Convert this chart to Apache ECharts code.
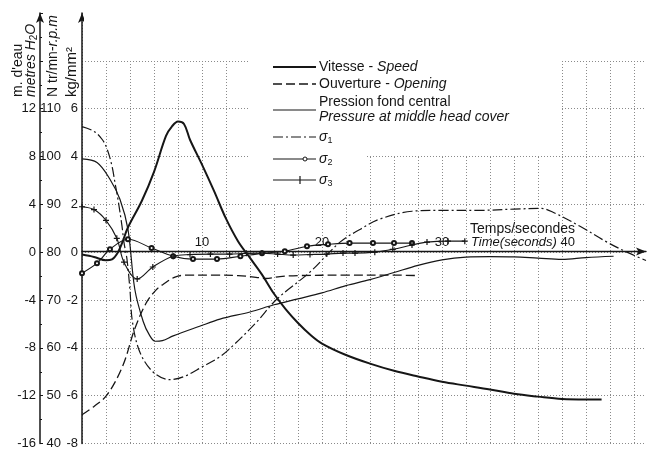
<!DOCTYPE html>
<html>
<head>
<meta charset="utf-8">
<script src="https://cdn.jsdelivr.net/npm/echarts@6.0.0/dist/echarts.min.js"></script>
<style>
html, body { margin: 0; padding: 0; background: #fff; }
#mychart { width: 649px; height: 450px; }
</style>
</head>
<body>
<div id="mychart"></div>
<script>
// tick labels of the three vertical scales and of the time axis
const timeTicks = [10, 20, 30, 40];
const kgTicks = [-8, -6, -4, -2, 0, 2, 4, 6];
const rpmTicks = [40, 50, 60, 70, 80, 90, 100, 110];
const metreTicks = [-16, -12, -8, -4, 0, 4, 8, 12];

// [time s, N tr/mn]
const speed = [[0, 79.5], [1, 79], [2, 78.3], [2.5, 78.5], [3, 80], [3.4, 82.3], [3.8, 85], [5, 90.8],
  [6, 96.8], [7, 104.3], [7.5, 106.3], [8, 107.3], [8.5, 106.8], [9, 103.5], [10, 98.3], [11, 92.8],
  [12, 87], [13, 82.3], [14, 78.8], [15, 75.3], [16, 71.3], [17, 68], [18, 65.2], [19, 62.8],
  [20, 60.9], [22, 58.5], [24, 56.7], [26, 55.2], [28, 54], [30, 52.9], [32, 52.1], [34, 51.3],
  [36, 50.4], [38, 49.8], [40, 49.3], [42, 49.2], [43.3, 49.2]];
// [time s, ouverture] drawn on the kg/mm2 scale
const opening = [[0, -6.8], [1, -6.45], [2.1, -5.96], [3.4, -4.75], [4.4, -3.2], [5.4, -2.08],
  [6.25, -1.54], [6.75, -1.35], [7.75, -1.04], [8.75, -0.96], [11, -0.96], [13, -0.98], [14.5, -1.05],
  [15.3, -1.1], [16.5, -1.02], [18, -0.98], [22, -0.96], [26, -0.96], [28, -0.98]];
// [time s, m d'eau]
const pressure = [[0, 7.8], [1.25, 7.5], [2.33, 6.1], [3.17, 4.4], [3.83, 1.9], [4.4, -3.1],
  [5.1, -5.8], [5.6, -6.9], [6.1, -7.45], [6.7, -7.4], [7.6, -7], [9.8, -6.2], [11.5, -5.6],
  [14, -5], [16, -4.4], [18, -3.9], [20, -3.4], [22, -2.8], [24, -2.3], [26, -1.7], [28, -1.1],
  [30, -0.65], [32, -0.42], [34, -0.38], [36, -0.4], [38, -0.5], [40, -0.6], [42, -0.45], [44.3, -0.34]];
// [time s, kg/mm2]
const sigma1 = [[0, 5.25], [1, 5.05], [1.7, 4.7], [2.1, 4.3], [2.5, 3.6], [2.75, 2.9], [3, 2.2],
  [3.33, 1.1], [3.5, 0.4], [3.75, -0.3], [4, -1.6], [4.2, -2.9], [4.8, -4.15], [5.9, -5], [7.3, -5.33],
  [8.5, -5.2], [10, -4.8], [11.5, -4.37], [12.6, -3.9], [14.5, -2.95], [16.25, -1.96], [19, -0.83],
  [21.5, 0.42], [23.2, 0.96], [24.8, 1.38], [27.5, 1.71], [30, 1.75], [33.2, 1.75], [36, 1.8],
  [38.2, 1.83], [39.25, 1.67], [41.5, 1.08], [43.75, 0.42], [45.4, 0], [47, -0.35]];
const sigma2 = [[0, -0.88], [1.25, -0.46], [2.33, 0.12], [3.83, 0.54], [5.8, 0.17], [7.6, -0.17],
  [9.25, -0.29], [11.25, -0.29], [13.2, -0.17], [15, -0.05], [16.9, 0.04], [18.75, 0.25], [20.5, 0.33],
  [22.3, 0.38], [24.25, 0.38], [26, 0.38], [27.5, 0.38]];
const sigma3 = [[0, 1.9], [1, 1.78], [2, 1.33], [2.9, 0.58], [3.5, -0.42], [4.6, -1.12], [5.9, -0.62],
  [7.6, -0.17], [9, -0.1], [10.7, -0.08], [12.3, -0.08], [13.7, -0.05], [15, -0.04], [16.3, -0.08],
  [17.6, -0.12], [19, -0.1], [20.4, -0.08], [21.75, -0.04], [22.75, -0.04], [24.4, 0], [25.9, 0.12],
  [27.5, 0.3], [28.75, 0.42], [30.5, 0.46], [31.9, 0.46]];

const ink = '#161616';
const font = 'Liberation Sans, Arial, sans-serif';
const grid = { color: '#8a8a8a', type: [1, 2], width: 1 };
const plus = 'path://M4,0 L6,0 L6,4 L10,4 L10,6 L6,6 L6,10 L4,10 L4,6 L0,6 L0,4 L4,4 Z';

const myChart = echarts.init(document.getElementById('mychart'));

const line = (name, data, axis, style, extra) => Object.assign({
  name: name, type: 'line', yAxisIndex: axis, data: data,
  smooth: 0.35, symbol: 'none', z: 5,
  lineStyle: Object.assign({ color: ink, width: 1.2 }, style)
}, extra || {});

// petite légende dessinée à la main (échantillon + texte)
const legendRow = (y, dash, width) => ({
  type: 'line', z: 6, shape: { x1: 273, y1: y, x2: 316, y2: y },
  style: { stroke: ink, lineWidth: width, lineDash: dash }
});
const rich = {
  i: { fontStyle: 'italic', fontFamily: font, fontSize: 14, fill: ink },
  s: { fontFamily: font, fontSize: 9, fill: ink, padding: [7, 0, 0, 0] }
};
const txt = (x, y, text, size) => ({
  type: 'text', x: x, y: y, z: 6,
  style: { text: text, fontFamily: font, fontSize: size || 14, fill: ink, verticalAlign: 'middle', rich: rich }
});
const vtxt = (x, y, text, size) => ({
  type: 'text', x: x, y: y, z: 6, rotation: Math.PI / 2,
  style: { text: text, fontFamily: font, fontSize: size || 14, fill: ink, align: 'left', verticalAlign: 'middle',
    rich: { i: { fontStyle: 'italic', fontFamily: font, fontSize: size || 14, fill: ink },
            s: { fontFamily: font, fontSize: 10, fill: ink, padding: [6, 0, 0, 0] } } }
});

myChart.setOption({
  animation: false,
  backgroundColor: '#fff',
  grid: { left: 82, right: 3, top: 13, bottom: 5 },
  xAxis: {
    type: 'value', min: 0, max: 47, interval: 2,
    position: 'bottom', offset: -192,
    axisLine: { onZero: false, lineStyle: { color: ink, width: 1.4 }, symbol: ['none', 'arrow'], symbolSize: [6, 10] },
    axisTick: { show: false },
    splitLine: { show: true, showMaxLine: false, lineStyle: grid },
    axisLabel: {
      inside: true, margin: 3, color: ink, fontFamily: font, fontSize: 13,
      formatter: v => v === 40 ? '{it|Time(seconds)} 40{gap|}' : (timeTicks.includes(v) ? String(v) : ''),
      rich: { it: { fontStyle: 'italic', fontFamily: font, fontSize: 13, color: ink }, gap: { width: 78 } }
    }
  },
  yAxis: [
    { // kg/mm2
      type: 'value', min: -8, max: 10, interval: 2, position: 'left',
      axisLine: { show: true, onZero: false, lineStyle: { color: ink, width: 1.5 }, symbol: ['none', 'arrow'], symbolSize: [6, 10] },
      axisTick: { show: false },
      splitLine: { show: true, lineStyle: grid },
      axisLabel: { margin: 4, color: ink, fontFamily: font, fontSize: 13,
        formatter: v => kgTicks.includes(v) ? String(v) : '' }
    },
    { // N tr/mn
      type: 'value', min: 40, max: 130, interval: 10, position: 'left', offset: 17,
      axisLine: { show: false }, axisTick: { show: false }, splitLine: { show: false },
      axisLabel: { margin: 4, color: ink, fontFamily: font, fontSize: 13,
        formatter: v => rpmTicks.includes(v) ? String(v) : '' }
    },
    { // m d'eau
      type: 'value', min: -16, max: 20, interval: 4, position: 'left', offset: 42,
      axisLine: { show: true, onZero: false, lineStyle: { color: ink, width: 1.5 }, symbol: ['none', 'arrow'], symbolSize: [6, 10] },
      axisTick: { show: true, inside: true, length: 3, lineStyle: { color: ink } },
      minorTick: { show: true, splitNumber: 2, length: 2, lineStyle: { color: ink } },
      splitLine: { show: false },
      axisLabel: { margin: 4, color: ink, fontFamily: font, fontSize: 13,
        formatter: v => metreTicks.includes(v) ? String(v) : '' }
    }
  ],
  graphic: [
    // zones sans quadrillage (haut et légende)
    { type: 'rect', z: 1, shape: { x: 84, y: 0, width: 565, height: 59 }, style: { fill: '#fff' } },
    { type: 'rect', z: 1, shape: { x: 249, y: 0, width: 311, height: 155 }, style: { fill: '#fff' } },
    { type: 'rect', z: 1, shape: { x: 249, y: 0, width: 117, height: 203 }, style: { fill: '#fff' } },
    // titres des axes
    vtxt(18, 97, "m. d'eau"),
    vtxt(31, 97, '{i|metres H}{s|2}{i|O}'),
    vtxt(53, 97, 'N tr/mn-{i|r.p.m}'),
    vtxt(72, 97, 'kg/mm²', 15),
    // légende
    legendRow(67, null, 2),
    txt(319, 67, 'Vitesse - {i|Speed}'),
    legendRow(84, [9, 4], 1.3),
    txt(319, 84, 'Ouverture - {i|Opening}'),
    legendRow(110, null, 1.2),
    txt(319, 102, 'Pression fond central'),
    txt(319, 117, '{i|Pressure at middle head cover}'),
    legendRow(137, [10, 3, 2, 3], 1.2),
    txt(319, 137, '{i|σ}{s|1}', 15),
    legendRow(159, null, 1.1),
    { type: 'circle', z: 7, shape: { cx: 305, cy: 159, r: 2 }, style: { fill: '#fff', stroke: ink, lineWidth: 1 } },
    txt(319, 159, '{i|σ}{s|2}', 15),
    legendRow(180, null, 1.1),
    { type: 'line', z: 7, shape: { x1: 300, y1: 176, x2: 300, y2: 184 }, style: { stroke: ink, lineWidth: 1.2 } },
    txt(319, 180, '{i|σ}{s|3}', 15),
    txt(470, 229, 'Temps/secondes', 14)
  ],
  series: [
    line('Vitesse', speed, 1, { width: 2 }),
    line('Ouverture', opening, 0, { type: [9, 4], width: 1.3 }),
    line('Pression', pressure, 2, {}),
    line('sigma1', sigma1, 0, { type: [10, 3, 2, 3] }),
    line('sigma2', sigma2, 0, { width: 1.1 }, { symbol: 'emptyCircle', symbolSize: 4, showSymbol: true,
      itemStyle: { color: ink, borderColor: ink, borderWidth: 1 } }),
    line('sigma3', sigma3, 0, { width: 1.1 }, { symbol: plus, symbolSize: 6, showSymbol: true,
      itemStyle: { color: ink } })
  ]
});

window.addEventListener('resize', () => { myChart.resize(); });
</script>
</body>
</html>
